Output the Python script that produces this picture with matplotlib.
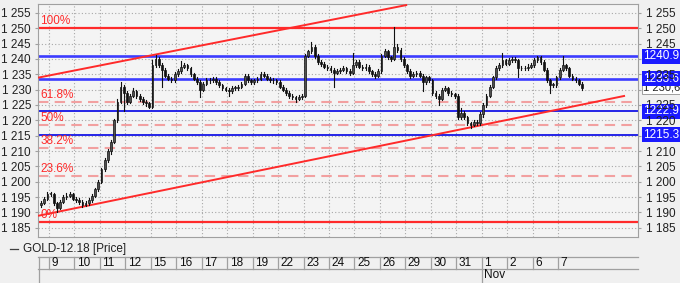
import matplotlib
matplotlib.use('Agg')
import matplotlib.pyplot as plt
from matplotlib.patches import Rectangle
from matplotlib.lines import Line2D
import matplotlib.transforms as mtransforms
from matplotlib.ticker import FuncFormatter

plt.rcParams['font.family'] = ['Liberation Sans', 'DejaVu Sans']

# ---------------- data ----------------
day_labels = ['9', '10', '11', '12', '15', '16', '17', '18', '19', '22', '23',
              '24', '25', '26', '29', '30', '31', '1', '2', '6', '7']
month_label = 'Nov'
month_start_index = 17          # position of '1' in day_labels
bars_per_day = 8
pre_bars = 3                    # bars of the partial day before '9'

first_open = 1192.5
closes = [
    1193, 1194.5, 1196,
    1196, 1193, 1191.5, 1193.5, 1195, 1195.5, 1196, 1194.5,
    1194, 1193.5, 1192.5, 1193, 1194, 1195.5, 1197.5, 1200,
    1204, 1207, 1210, 1213, 1220, 1226, 1231, 1229,
    1226, 1228, 1229.5, 1228, 1227, 1226, 1225.5, 1224.5,
    1238, 1240, 1238, 1236.5, 1234.5, 1233.5, 1233, 1235,
    1236, 1237.5, 1238, 1237, 1235, 1233.5, 1232.5, 1230,
    1232, 1233, 1233, 1233.5, 1232.5, 1231.5, 1230.5, 1230,
    1229.5, 1230.5, 1230.5, 1231, 1232, 1234.5, 1233, 1232.5,
    1233, 1233.5, 1235, 1234.5, 1233.5, 1233, 1233, 1232.5,
    1231, 1230, 1229, 1228, 1227.5, 1227, 1227.5, 1228,
    1241, 1242.5, 1244, 1241, 1239, 1238.5, 1237.5, 1237,
    1236.5, 1235.5, 1236, 1236.5, 1237, 1236, 1235.5, 1238,
    1239, 1237.5, 1237, 1237.5, 1236, 1235, 1234.5, 1236,
    1241, 1242.5, 1240.5, 1240, 1244, 1243, 1240, 1238,
    1236, 1234.5, 1235, 1235.5, 1234.5, 1232.5, 1234, 1233,
    1229, 1228, 1227, 1230, 1230.5, 1229, 1228.5, 1228,
    1221, 1222.5, 1221, 1219, 1218.5, 1219.5, 1219, 1222,
    1225, 1228, 1231, 1234, 1237, 1238, 1239.5, 1238.5,
    1239.5, 1240, 1239.5, 1237, 1237, 1237, 1237.5, 1238,
    1239.5, 1240.5, 1239, 1236.5, 1233, 1231.5, 1231.5, 1234,
    1236.5, 1238, 1237, 1234.5, 1233.5, 1233, 1232, 1230.6,
]
highs = [
    1193.8, 1195, 1196.6,
    1196.8, 1196.4, 1193.5, 1194, 1195.6, 1196.3, 1196.6, 1196.4,
    1195, 1194.6, 1194, 1193.7, 1194.6, 1196, 1198, 1200.6,
    1204.6, 1207.6, 1210.8, 1213.6, 1220.6, 1227, 1232.6, 1231.5,
    1229.5, 1228.6, 1230.5, 1230, 1228.5, 1227.5, 1226.6, 1226,
    1239.5, 1241.3, 1240.5, 1238.6, 1237, 1235, 1234, 1235.6,
    1236.6, 1239.2, 1238.8, 1238.5, 1237.5, 1235.5, 1234, 1233,
    1232.6, 1233.7, 1233.8, 1234.2, 1234, 1233, 1232, 1231,
    1230.6, 1231.2, 1231.2, 1231.6, 1232.6, 1235, 1235, 1233.6,
    1233.6, 1234.2, 1235.6, 1235.6, 1235, 1234, 1233.7, 1233.6,
    1233, 1231.5, 1230.5, 1229.5, 1228.6, 1228, 1228.1, 1228.6,
    1241.5, 1243, 1245.6, 1244.5, 1241.5, 1239.6, 1239, 1238,
    1237.6, 1237, 1236.7, 1237.2, 1237.7, 1237.5, 1236.6, 1241.9,
    1239.7, 1239.5, 1238, 1238.2, 1238, 1236.5, 1235.6, 1236.6,
    1241.6, 1243.2, 1243, 1241, 1250.3, 1245, 1243.5, 1240.5,
    1238.5, 1236.6, 1235.7, 1236.2, 1236, 1235, 1234.6, 1234.5,
    1233.5, 1229.5, 1228.5, 1230.6, 1231.2, 1231, 1229.6, 1229,
    1228.5, 1224, 1223, 1221.5, 1219.6, 1220.2, 1220, 1222.6,
    1225.6, 1228.6, 1231.6, 1234.6, 1237.6, 1238.7, 1241.9, 1240,
    1240.2, 1240.7, 1240.6, 1240, 1237.7, 1237.7, 1238.2, 1238.7,
    1240.2, 1240.8, 1241, 1239.5, 1237, 1233.5, 1232.2, 1234.6,
    1237, 1240.8, 1238.5, 1237.5, 1235, 1234, 1233.5, 1232.5,
]
lows = [
    1191.8, 1192.6, 1194,
    1195.3, 1192.4, 1190.3, 1191, 1193, 1194.5, 1195, 1194,
    1193.4, 1192.8, 1191.8, 1192, 1192.5, 1193.5, 1195, 1197,
    1199.5, 1203.5, 1206.5, 1209, 1212.5, 1219.5, 1225.5, 1223,
    1225.4, 1225.5, 1227.5, 1227.4, 1226.4, 1225.4, 1224.8, 1224,
    1224, 1237.5, 1237.4, 1231, 1234, 1233, 1232.4, 1232.5,
    1234.5, 1235.5, 1237, 1236.4, 1234.4, 1233, 1232, 1227.7,
    1229.5, 1231.5, 1232.3, 1232.5, 1232, 1231, 1230, 1229.4,
    1228, 1229, 1229.8, 1230, 1230.5, 1231.5, 1232.4, 1231.8,
    1232, 1232.5, 1233, 1234, 1233, 1232.4, 1232.3, 1231.8,
    1230.4, 1229.4, 1228.4, 1227.4, 1226.8, 1226, 1226.5, 1227,
    1227.5, 1240.5, 1242, 1240.4, 1238.4, 1237.8, 1237, 1236.4,
    1235.8, 1231, 1235, 1235.5, 1236, 1235.4, 1234.8, 1235,
    1237.5, 1237, 1236.4, 1236.5, 1235.4, 1234.4, 1233.8, 1234,
    1235.5, 1240.5, 1240, 1239.4, 1239.5, 1242.4, 1239.4, 1237.4,
    1235.4, 1233.8, 1234, 1234.5, 1234, 1229.5, 1232, 1232.4,
    1228.4, 1227.4, 1225, 1226.5, 1229.5, 1228.4, 1228, 1227.4,
    1220.4, 1220.5, 1220.4, 1218.4, 1217.5, 1218, 1218.4, 1218.5,
    1221, 1224.5, 1227.5, 1230.5, 1233.5, 1236.5, 1237.5, 1238,
    1238, 1239, 1239, 1234, 1236.3, 1236.3, 1236.5, 1237,
    1237.5, 1239, 1238.4, 1236, 1232.4, 1229, 1230.8, 1231,
    1233.5, 1236, 1236.4, 1234, 1233, 1232.4, 1231.4, 1230,
]

fib_low = 1186.8
fib_high = 1250.0
fib_levels = [0, 23.6, 38.2, 50, 61.8, 100]
blue_levels = [1240.9, 1233.6, 1222.9, 1215.3]
last_price = 1230.6
y_ticks = list(range(1185, 1260, 5))
right_hidden_ticks = [1240, 1230, 1215]   # fully covered by value boxes

# trend channel lines (day units, price)
upper_days = [-0.43, 14.07]
upper_prices = [1233.9, 1257.6]
lower_days = [-0.43, 22.63]
lower_prices = [1188.9, 1228.0]

legend_text = 'GOLD-12.18 [Price]'

# ---------------- layout ----------------
W, H = 680, 283
fig = plt.figure(figsize=(W / 100, H / 100), dpi=100)
bg = '#f0f0f0'
fig.patch.set_facecolor(bg)

L, R, T, B = 38, 638, 4, 237
ax = fig.add_axes([L / W, (H - B) / H, (R - L) / W, (B - T) / H])
ax.set_facecolor('#f4f4f4')

n_days = len(day_labels)
xmin, xmax = -0.432, 23.14
ylo, yhi = 1182.0, 1257.9
ax.set_xlim(xmin, xmax)
ax.set_ylim(ylo, yhi)

# grid
grid_c = '#a8a8a8'
for k in range(n_days):
    ax.axvline(k, color=grid_c, lw=0.8, ls=(0, (1, 2)), zorder=1)
for v in y_ticks:
    ax.axhline(v, color=grid_c, lw=0.8, ls=(0, (1, 2)), zorder=1)

# fib levels
rng = fib_high - fib_low
red = '#ff2a2a'
for lvl in fib_levels:
    price = fib_low + rng * lvl / 100.0
    if lvl in (0, 100):
        ax.axhline(price, color=red, lw=1.6, zorder=2)
    else:
        ax.axhline(price, color='#f2a0a0', lw=1.5, ls=(0, (5, 3)), zorder=2)
    ax.text(-0.35, price + 0.4, f'{lvl:g}%', color=red, fontsize=8.5,
            va='bottom', ha='left', zorder=6)

# blue levels
for i, lv in enumerate(blue_levels):
    if i < 2:
        ax.axhline(lv, color='#3c3cff', lw=1.9, zorder=2)
    else:
        ax.axhline(lv, color='#1414e6', lw=1.3, zorder=2)

# channel lines
ax.plot(upper_days, upper_prices, color=red, lw=1.4, zorder=3, solid_capstyle='butt')
ax.plot(lower_days, lower_prices, color=red, lw=1.4, zorder=3, solid_capstyle='butt')

# candles
bw = 0.55 / bars_per_day
opens = [first_open] + closes[:-1]
for i, (o, c, h, l) in enumerate(zip(opens, closes, highs, lows)):
    xpos = (i - pre_bars + 0.5) / bars_per_day
    ax.plot([xpos, xpos], [l, h], color='#111111', lw=0.8, zorder=4)
    lo_b, hi_b = min(o, c), max(o, c)
    if hi_b - lo_b < 0.2:
        hi_b = lo_b + 0.2
    fc = '#505050' if c >= o else '#111111'
    ax.add_patch(Rectangle((xpos - bw / 2, lo_b), bw, hi_b - lo_b,
                           facecolor=fc, edgecolor='#111111', lw=0.5, zorder=5))

# axes styling
for s in ax.spines.values():
    s.set_color('#a0a0a0')
    s.set_linewidth(0.8)
ax.set_xticks([])
fmt = FuncFormatter(lambda v, p: f'{int(round(v)):,}'.replace(',', ' '))
ax.set_yticks(y_ticks)
ax.yaxis.set_major_formatter(fmt)
ax.tick_params(axis='y', left=True, right=False, labelleft=True,
               labelright=False, length=2, color='#a0a0a0', labelsize=8.5,
               labelcolor='#202020', pad=3)

axr = ax.twinx()
axr.set_ylim(ylo, yhi)
axr.set_yticks(y_ticks)
axr.yaxis.set_major_formatter(FuncFormatter(
    lambda v, p: '' if int(round(v)) in right_hidden_ticks
    else f'{int(round(v)):,}'.replace(',', ' ')))
axr.tick_params(axis='y', length=2, color='#a0a0a0', labelsize=8.5,
                labelcolor='#202020', pad=4)
for s in axr.spines.values():
    s.set_visible(False)

# right-side value boxes
trans = mtransforms.blended_transform_factory(ax.transAxes, ax.transData)
for lv in blue_levels:
    ax.text(1.009, lv, f'{lv:.1f}', transform=trans, color='white', fontsize=8.5,
            va='center', ha='left', zorder=10, clip_on=False,
            bbox=dict(boxstyle='square,pad=0.12', fc='#1a1aff', ec='none'))
lp_text = f'{last_price:,.1f}'.replace(',', ' ').replace('.', ',')
ax.text(1.008, last_price, lp_text, transform=trans,
        color='#202020', fontsize=8, va='center', ha='left', zorder=9, clip_on=False,
        bbox=dict(boxstyle='square,pad=0.1', fc='white', ec='#909090', lw=0.6))

# legend
fig.add_artist(Line2D([10 / W, 18 / W], [1 - 249 / H, 1 - 249 / H],
                      color='#404040', lw=0.9))
fig.text(23 / W, 1 - 249 / H, legend_text, fontsize=8.5, va='center',
         ha='left', color='#202020')

# date axis
dtop, dbot = 256.7, 283
dax = fig.add_axes([L / W, (H - dbot) / H, (R - L) / W, (dbot - dtop) / H])
dax.set_xlim(xmin, xmax)
dh = dbot - dtop
dax.set_ylim(0, dh)
dax.axis('off')
dax.patch.set_alpha(0)
split = dbot - 269.0
lc = '#a0a0a0'
dax.plot([xmin, xmax], [dh - 0.3, dh - 0.3], color=lc, lw=0.9, clip_on=False)
dax.plot([xmin, xmax], [split, split], color=lc, lw=0.9, clip_on=False)
dax.plot([xmin + 0.02, xmin + 0.02], [0, dh], color=lc, lw=0.9, clip_on=False)
for k, lab in enumerate(day_labels):
    ybot = 0 if k == month_start_index else split
    dax.plot([k, k], [ybot, dh], color=lc, lw=0.9, clip_on=False)
    dax.text(k + 0.1, (dh + split) / 2, lab, fontsize=8.5, va='center',
             ha='left', color='#101010')
dax.text(month_start_index + 0.1, split / 2 + 0.5, month_label, fontsize=8.5,
         va='center', ha='left', color='#101010')

fig.savefig('out.png', dpi=100, facecolor=bg)
